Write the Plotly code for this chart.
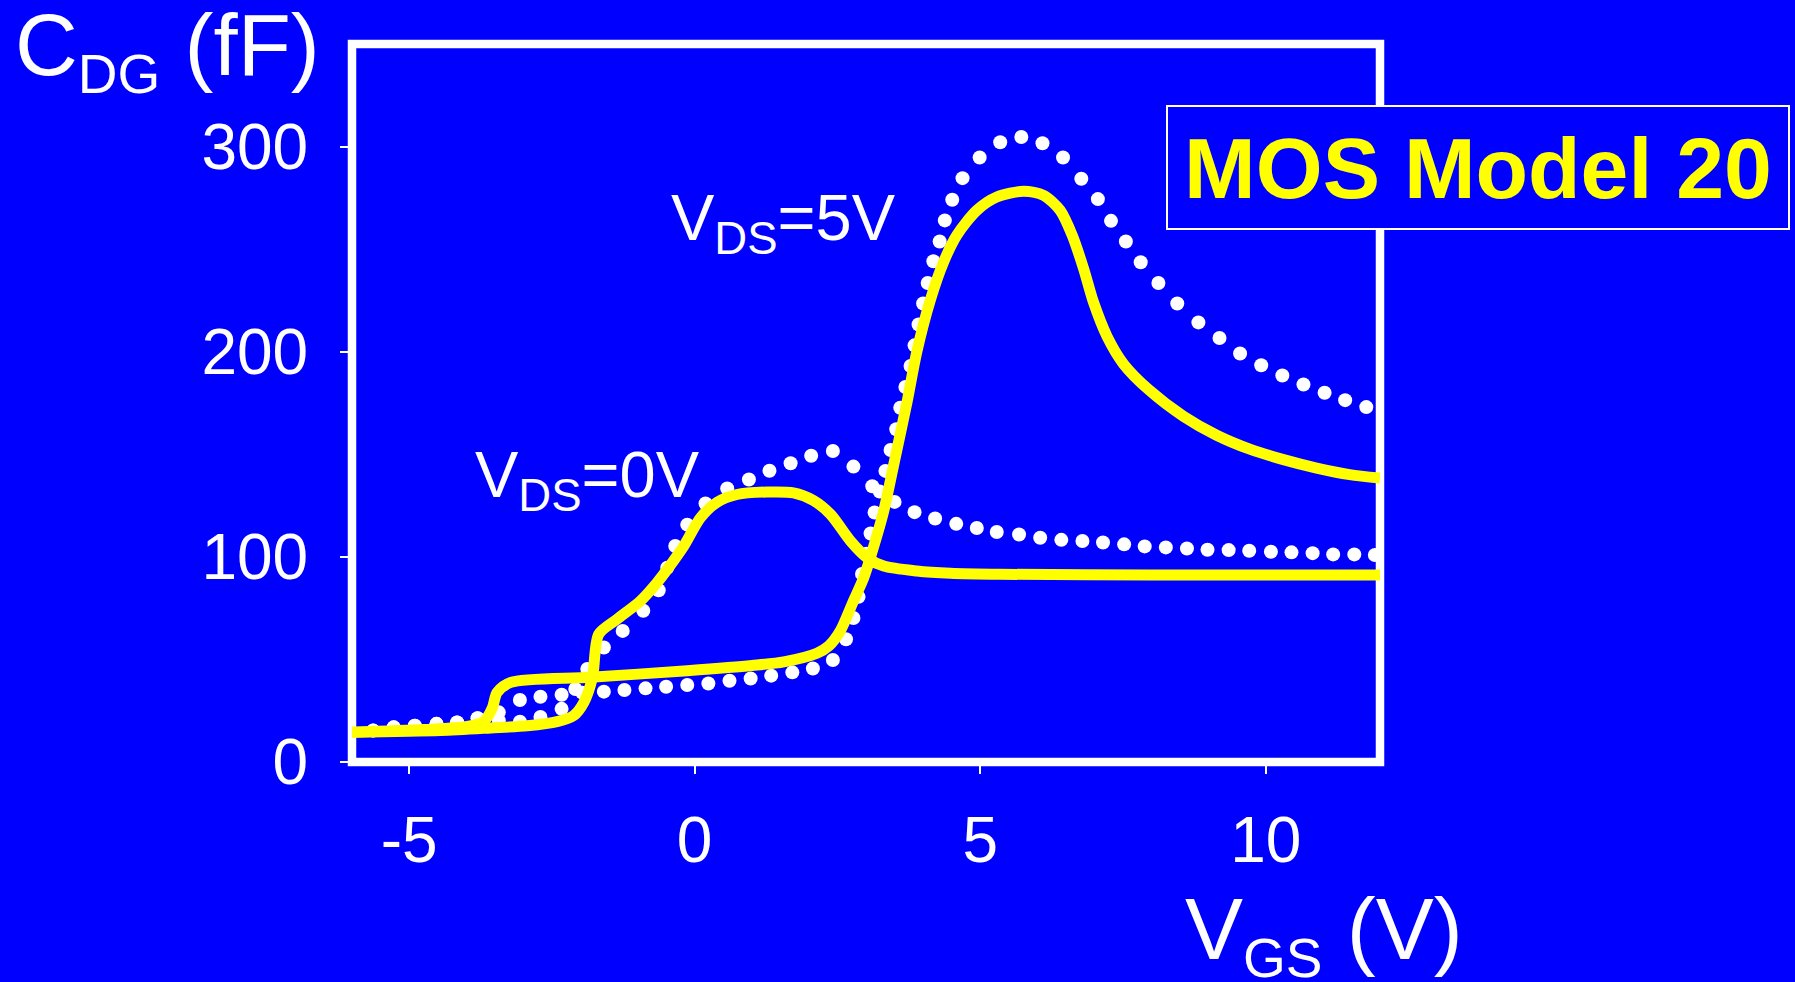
import plotly.graph_objects as go

# ---- data ----
# measured, V_DS = 0 V (white dots)
m0_vgs = [-5.63, -5.27, -4.90, -4.52, -4.16, -3.80, -3.43, -3.06, -2.70, -2.33, -2.09,
          -1.88, -1.59, -1.26, -0.90, -0.63, -0.48, -0.34, -0.13, 0.19, 0.57, 0.95,
          1.31, 1.68, 2.04, 2.42, 2.78, 3.11, 3.50, 3.85, 4.21, 4.58, 4.94, 5.29,
          5.68, 6.05, 6.42, 6.79, 7.15, 7.52, 7.88, 8.25, 8.62, 8.98, 9.35, 9.71,
          10.09, 10.45, 10.82, 11.18, 11.55, 11.91]
m0_cdg = [15.3, 16.9, 17.7, 18.6, 19.3, 21.3, 20.3, 19.6, 21.9, 25.9, 35.6,
          45.3, 55.8, 63.9, 73.7, 83.7, 94.7, 105.3, 115.7, 126.0, 133.3, 137.7,
          142.0, 145.6, 149.3, 151.6, 144.0, 134.4, 126.8, 121.8, 118.7, 116.1, 114.1, 112.1,
          110.9, 109.3, 108.3, 107.7, 107.0, 106.1, 105.1, 104.6, 104.1, 103.5, 103.3, 103.0,
          102.5, 102.2, 101.8, 101.2, 101.2, 100.9]

# measured, V_DS = 5 V (white dots)
m5_vgs = [-5.63, -5.27, -4.90, -4.52, -4.16, -3.80, -3.43, -3.06, -2.70, -2.33, -1.97,
          -1.59, -1.23, -0.86, -0.50, -0.13, 0.24, 0.61, 0.98, 1.34, 1.71, 2.07, 2.42,
          2.65, 2.78, 2.87, 2.93, 3.01, 3.08, 3.15, 3.24, 3.34, 3.43, 3.53, 3.60, 3.69,
          3.78, 3.85, 3.92, 4.00, 4.08, 4.18, 4.29, 4.38, 4.51, 4.69, 4.99, 5.35, 5.72,
          6.09, 6.45, 6.77, 7.06, 7.29, 7.55, 7.81, 8.12, 8.45, 8.82, 9.19, 9.55, 9.92,
          10.29, 10.66, 11.03, 11.39, 11.76]
m5_cdg = [15.3, 16.9, 17.7, 18.6, 19.3, 21.3, 24.2, 30.2, 31.8, 32.8, 33.8,
          34.3, 35.1, 35.9, 36.7, 37.5, 38.3, 39.6, 40.7, 42.1, 43.7, 45.6, 49.7,
          59.8, 70.2, 80.5, 91.7, 101.5, 111.4, 121.6, 131.8, 141.9, 152.1, 162.2, 172.7, 182.8,
          193.0, 203.1, 213.3, 223.5, 233.5, 244.1, 253.7, 264.0, 274.1, 284.6, 294.7, 302.1, 304.7,
          301.6, 294.7, 284.3, 274.4, 263.8, 253.7, 243.6, 233.5, 223.5, 214.3, 206.7, 199.1, 193.4,
          188.4, 184.0, 180.0, 176.4, 173.0]

# model, V_DS = 0 V (yellow line)
y0_vgs = [-6.0, -4.45, -3.57, -2.93, -2.41, -2.12, -1.94, -1.79, -1.68, -1.36, -0.95,
          -0.66, -0.48, -0.19, 0.10, 0.39, 0.74, 1.27, 1.73, 2.08, 2.38, 2.73, 3.02,
          3.31, 3.89, 4.48, 5.35, 8.0, 12.0]
y0_cdg = [14.5, 15.3, 16.6, 17.7, 19.7, 22.6, 29.1, 41.2, 62.3, 69.6, 78.5,
          87.4, 93.9, 105.3, 119.0, 126.6, 130.4, 131.6, 131.2, 127.5, 120.7, 107.7, 99.6,
          95.5, 93.1, 92.0, 91.5, 91.2, 91.2]

# model, V_DS = 5 V (yellow line)
y5_vgs = [-6.0, -4.74, -3.98, -3.69, -3.54, -3.46, -3.22, -1.82, -0.13, 1.0, 1.56, 2.14,
          2.35, 2.55, 2.78, 2.96, 3.11, 3.31, 3.51, 3.72, 3.89, 4.13, 4.36, 4.59, 4.94,
          5.29, 5.76, 6.11, 6.40, 6.61, 6.81, 6.98, 7.22, 7.51, 7.95, 8.56, 9.14, 9.72,
          10.31, 10.89, 11.47, 12.0]
y5_cdg = [14.5, 15.8, 17.3, 19.8, 26.6, 33.9, 38.8, 41.3, 44.5, 47.0, 48.8, 53.0,
          56.6, 63.9, 78.5, 89.8, 102.8, 122.3, 148.2, 175.7, 200.0, 225.5, 243.8, 256.8, 268.9,
          275.4, 278.2, 276.2, 268.9, 256.8, 240.5, 224.4, 207.5, 194.0, 181.5, 168.5, 159.3, 152.5,
          147.4, 143.3, 140.1, 138.4]

x_ticks = [-5, 0, 5, 10]
x_tick_text = ["-5", "0", "5", "10"]
y_ticks = [0, 100, 200, 300]
y_tick_text = ["0", "100", "200", "300"]

BLUE = "#0000FF"
WHITE = "#FFFFFF"
YELLOW = "#FFFF00"
FONT = "Liberation Sans, Arial, Helvetica, sans-serif"

fig = go.Figure()
for xs, ys in [(m0_vgs, m0_cdg), (m5_vgs, m5_cdg)]:
    fig.add_trace(go.Scatter(x=xs, y=ys, mode="markers", cliponaxis=False,
                             marker=dict(color=WHITE, size=14, line=dict(width=0)),
                             showlegend=False, hoverinfo="skip"))
for xs, ys in [(y0_vgs, y0_cdg), (y5_vgs, y5_cdg)]:
    fig.add_trace(go.Scatter(x=xs, y=ys, mode="lines", cliponaxis=False,
                             line=dict(color=YELLOW, width=11, shape="spline", smoothing=0.8),
                             showlegend=False, hoverinfo="skip"))

# plot frame
fig.add_shape(type="rect", xref="paper", yref="paper", x0=0, x1=1, y0=0, y1=1,
              line=dict(color=WHITE, width=8.5), layer="below")

ann_font = dict(family=FONT, color=WHITE, size=65)
fig.add_annotation(xref="paper", yref="paper", x=0.3084, y=0.7507, xanchor="left", yanchor="middle",
                   text="V<sub>DS</sub>=5V", showarrow=False, font=ann_font)
fig.add_annotation(xref="paper", yref="paper", x=0.1177, y=0.394, xanchor="left", yanchor="middle",
                   text="V<sub>DS</sub>=0V", showarrow=False, font=ann_font)
fig.add_annotation(xref="paper", yref="paper", x=-0.3298, y=0.9916, xanchor="left", yanchor="middle",
                   text="C<sub><span style='font-size:55px'>DG</span></sub> (fF)", showarrow=False,
                   font=dict(family=FONT, color=WHITE, size=87))
fig.add_annotation(xref="paper", yref="paper", x=0.8084, y=-0.240, xanchor="left", yanchor="middle",
                   text="V<sub><span style='font-size:55px'>GS</span></sub> (V)", showarrow=False,
                   font=dict(family=FONT, color=WHITE, size=87))
fig.add_annotation(xref="paper", yref="paper", x=1.0953, y=0.828, xanchor="center", yanchor="middle",
                   text="<b>MOS Model 20</b>", showarrow=False,
                   width=620, height=121, borderpad=0, borderwidth=2, bordercolor=WHITE,
                   bgcolor=BLUE, font=dict(family=FONT, color=YELLOW, size=86))

axis_common = dict(showgrid=False, zeroline=False, showline=False, ticks="outside",
                   ticklen=11, tickwidth=2, tickcolor=WHITE, automargin=False,
                   tickfont=dict(family=FONT, color=WHITE, size=64), fixedrange=True)
fig.update_xaxes(range=[-6, 12], tickmode="array", tickvals=x_ticks, ticktext=x_tick_text,
                 ticklabelstandoff=11, **axis_common)
fig.update_yaxes(range=[0, 350], tickmode="array", tickvals=y_ticks, ticktext=y_tick_text,
                 ticklabelstandoff=19, **axis_common)

fig.update_layout(width=1795, height=982, paper_bgcolor=BLUE, plot_bgcolor=BLUE,
                  margin=dict(l=352, r=415, t=44, b=220, autoexpand=False),
                  showlegend=False, font=dict(family=FONT, color=WHITE))

fig.write_html("out.html", config={"displayModeBar": False})
